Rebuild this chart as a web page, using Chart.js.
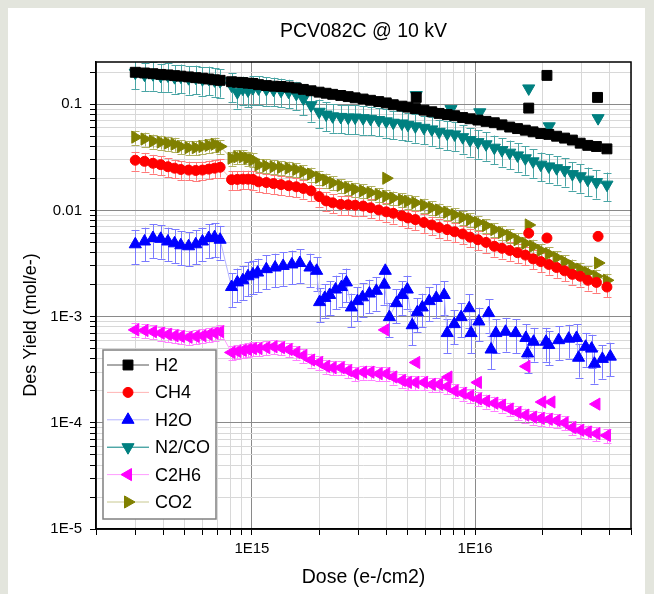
<!DOCTYPE html>
<html>
<head>
<meta charset="utf-8">
<title>PCV082C @ 10 kV</title>
<script src="https://cdn.jsdelivr.net/npm/chart.js@4.4.1/dist/chart.umd.min.js"></script>
<style>
  html, body { margin: 0; padding: 0; background: #e3e5dd; }
  #wrap { width: 654px; height: 594px; }
</style>
</head>
<body>
<div id="wrap"><canvas id="chart" width="654" height="594"></canvas></div>
<script>
// Dose grid shared by the smooth series (e-/cm2)
const dose = [
  3.0e14, 3.3e14, 3.6e14, 3.9e14, 4.2e14, 4.5e14, 4.8e14, 5.2e14, 5.6e14, 6.0e14, 6.4e14, 6.8e14, 7.2e14,
  8.1e14, 8.6e14, 9.1e14, 9.6e14, 1.01e15,
  1.07e15, 1.16e15, 1.25e15, 1.35e15, 1.46e15, 1.58e15, 1.7e15, 1.84e15, 2.0e15, 2.15e15,
  2.3e15, 2.5e15, 2.7e15, 2.9e15, 3.15e15, 3.4e15, 3.7e15, 4.0e15, 4.3e15, 4.7e15,
  5.0e15, 5.4e15, 5.9e15, 6.4e15, 6.9e15, 7.5e15, 8.1e15, 8.8e15, 9.5e15,
  1.03e16, 1.12e16, 1.22e16, 1.32e16, 1.43e16, 1.55e16, 1.68e16, 1.82e16, 1.97e16, 2.14e16,
  2.32e16, 2.52e16, 2.73e16, 2.96e16, 3.2e16, 3.5e16, 3.9e16
];

const h2 = [
  0.200, 0.197, 0.194, 0.191, 0.189, 0.186, 0.184, 0.181, 0.178, 0.176, 0.173, 0.170, 0.168,
  0.163, 0.161, 0.160, 0.158, 0.157,
  0.153, 0.150, 0.148, 0.147, 0.145, 0.142, 0.138, 0.134, 0.130, 0.127,
  0.124, 0.121, 0.118, 0.115, 0.112, 0.109, 0.106, 0.103, 0.099, 0.096,
  0.094, 0.091, 0.088, 0.085, 0.082, 0.080, 0.078, 0.075, 0.073,
  0.071, 0.069, 0.067, 0.064, 0.061, 0.059, 0.057, 0.055, 0.053, 0.052,
  0.050, 0.048, 0.046, 0.043, 0.041, 0.040, 0.038
];

const ch4 = [
  0.0297, 0.0290, 0.0278, 0.0270, 0.0258, 0.0250, 0.0243, 0.0240, 0.0238, 0.0240, 0.0245, 0.0250, 0.0255,
  0.0195, 0.0196, 0.0197, 0.0197, 0.0196,
  0.0186, 0.0183, 0.0179, 0.0175, 0.0171, 0.0167, 0.0161, 0.0153, 0.0135, 0.0123,
  0.0118, 0.0114, 0.0113, 0.0112, 0.0110, 0.0106, 0.0101, 0.0097, 0.0094, 0.0089,
  0.0085, 0.0082, 0.0077, 0.0073, 0.0069, 0.0066, 0.0063, 0.0060, 0.0056,
  0.0053, 0.0050, 0.0046, 0.0044, 0.0042, 0.0040, 0.0038, 0.0035, 0.0033, 0.0031,
  0.0029, 0.0027, 0.0025, 0.0024, 0.0022, 0.0021, 0.0019
];

const n2co = [
  0.198, 0.190, 0.192, 0.185, 0.187, 0.180, 0.182, 0.176, 0.178, 0.172, 0.174, 0.168, 0.165,
  0.150, 0.130, 0.140, 0.135, 0.142,
  0.141, 0.139, 0.137, 0.134, 0.131, 0.125, 0.113, 0.098, 0.085, 0.080,
  0.077, 0.076, 0.075, 0.075, 0.074, 0.073, 0.071, 0.069, 0.067, 0.066,
  0.064, 0.062, 0.060, 0.058, 0.055, 0.053, 0.052, 0.049, 0.046,
  0.044, 0.042, 0.039, 0.037, 0.035, 0.033, 0.031, 0.029, 0.027, 0.026,
  0.025, 0.024, 0.022, 0.021, 0.0195, 0.0185, 0.0175
];

const c2h6 = [
  0.00075, 0.00074, 0.00072, 0.00070, 0.00068, 0.00066, 0.00065, 0.00064, 0.00065, 0.00066, 0.00068, 0.00070, 0.00072,
  0.00046, 0.00047, 0.00048, 0.00049, 0.00050,
  0.00050, 0.00051, 0.00052, 0.00051, 0.00049, 0.00046, 0.00043, 0.00039, 0.00037, 0.00034,
  0.00033, 0.00033, 0.00031, 0.00029, 0.00030, 0.00030, 0.00029, 0.00029, 0.00027, 0.00025,
  0.00024, 0.00024, 0.00024, 0.00023, 0.00023, 0.00022, 0.00020, 0.00019, 0.00018,
  0.000168, 0.00016, 0.000153, 0.000147, 0.000135, 0.000125, 0.000118, 0.000113, 0.00011, 0.000108,
  0.000105, 0.0001, 0.00009, 0.000085, 0.000082, 0.000079, 0.000076
];

const co2 = [
  0.049, 0.047, 0.045, 0.044, 0.043, 0.042, 0.040, 0.039, 0.039, 0.040, 0.041, 0.042, 0.040,
  0.031, 0.032, 0.032, 0.031, 0.030,
  0.0268, 0.0263, 0.0258, 0.0254, 0.0250, 0.0243, 0.0232, 0.0220, 0.0205, 0.0193,
  0.0182, 0.0172, 0.0164, 0.0158, 0.0153, 0.0147, 0.0141, 0.0136, 0.0131, 0.0126,
  0.0122, 0.0118, 0.0112, 0.0106, 0.0101, 0.0096, 0.0091, 0.0086, 0.0082,
  0.0077, 0.0072, 0.0066, 0.0062, 0.0058, 0.0053, 0.0049, 0.0046, 0.0042, 0.0039,
  0.0036, 0.0033, 0.0030, 0.0028, 0.0026, 0.0024, 0.0022
];

// H2O has its own saw-tooth dose grid
const h2oDose = [
  3.0e14, 3.3e14, 3.6e14, 3.9e14, 4.2e14, 4.5e14, 4.8e14, 5.2e14, 5.6e14, 6.0e14, 6.4e14, 6.8e14, 7.2e14,
  8.1e14, 8.6e14, 9.1e14, 9.6e14, 1.01e15,
  1.06e15, 1.16e15, 1.27e15, 1.38e15, 1.51e15, 1.64e15, 1.82e15, 1.95e15,
  2.01e15, 2.12e15, 2.23e15, 2.37e15, 2.52e15, 2.65e15,
  2.79e15, 2.97e15, 3.13e15, 3.36e15, 3.61e15, 3.92e15,
  4.13e15, 4.44e15, 4.72e15, 4.97e15,
  5.23e15, 5.51e15, 5.8e15, 6.23e15, 6.7e15, 7.27e15,
  7.5e15, 8.07e15, 8.66e15, 9.41e15,
  9.6e15, 1.04e16, 1.15e16,
  1.18e16, 1.24e16, 1.37e16, 1.52e16, 1.69e16,
  1.72e16, 1.83e16, 2.08e16,
  2.14e16, 2.37e16, 2.63e16, 2.85e16,
  2.91e16, 3.13e16, 3.33e16,
  3.43e16, 3.72e16, 4.04e16
];
const h2o = [
  0.0048, 0.0051, 0.0055, 0.0054, 0.0051, 0.0049, 0.0047, 0.0046, 0.0048, 0.0051, 0.0055, 0.0056, 0.0053,
  0.0019, 0.0021, 0.0022, 0.0024, 0.0025,
  0.0026, 0.0028, 0.0029, 0.0030, 0.0031, 0.0032, 0.0029, 0.0027,
  0.00137, 0.0015, 0.0016, 0.0018, 0.0019, 0.0021,
  0.00122, 0.0014, 0.00152, 0.00165, 0.00175, 0.0020,
  0.00099, 0.00134, 0.0016, 0.0018,
  0.00083, 0.0011, 0.00122, 0.0014, 0.0015, 0.0016,
  0.0007, 0.00085, 0.00099, 0.0012,
  0.0007, 0.0009, 0.00108,
  0.00049, 0.0007, 0.00072, 0.0007, 0.00063,
  0.00045, 0.00058, 0.00058,
  0.00054, 0.0006, 0.00062, 0.00063,
  0.00041, 0.00052, 0.0005,
  0.00036, 0.0004, 0.00042
];

// Stray single points
const h2OutDose = [5.45e15, 1.74e16, 2.1e16, 3.54e16];
const h2Out = [0.116, 0.092, 0.187, 0.116];
const ch4OutDose = [1.74e16, 2.1e16, 3.56e16];
const ch4Out = [0.0061, 0.0055, 0.0057];
const h2oOutDose = [3.96e15];
const h2oOut = [0.0027];
const n2coOutDose = [5.45e15, 7.8e15, 1.05e16, 1.74e16, 2.15e16, 3.56e16];
const n2coOut = [0.122, 0.09, 0.084, 0.141, 0.062, 0.074];
const c2h6OutDose = [3.96e15, 5.45e15, 7.6e15, 1.03e16, 1.7e16, 2.0e16, 2.2e16, 3.5e16];
const c2h6Out = [0.00075, 0.00037, 0.00027, 0.00024, 0.00034, 0.000157, 0.000157, 0.00015];
const co2OutDose = [4.0e15, 1.74e16, 3.56e16];
const co2Out = [0.0201, 0.0073, 0.0032];

const seriesNames = ["H2", "CH4", "H2O", "N2/CO", "C2H6", "CO2"];
// relative error bar size (fraction of value)
const errFrac = [0.06, 0.2, 0.35, 0.3, 0.15, 0.15];

// Axis ticks
const xTickValues = [1e15, 1e16];
const xTickLabels = ["1E15", "1E16"];
const yTickValues = [1e-5, 1e-4, 1e-3, 0.01, 0.1];
const yTickLabels = ["1E-5", "1E-4", "1E-3", "0.01", "0.1"];

const FONT = "'Liberation Sans', Arial, sans-serif";

function pts(xs, ys) {
  return xs.map((x, i) => ({ x: x, y: ys[i] }));
}

// Series styles
const styles = [
  { color: "#000000", line: "#555555", err: "#444444", shape: "rect", rot: 0, r: 7 },
  { color: "#ff0000", line: "#ffb4b4", err: "#ff7a7a", shape: "circle", rot: 0, r: 5 },
  { color: "#0000ff", line: "#b4b4ff", err: "#7a7aff", shape: "triangle", rot: 0, r: 7 },
  { color: "#008080", line: "#008080", err: "#4aa5a5", shape: "triangle", rot: 180, r: 7 },
  { color: "#ff00ff", line: "#ff9cff", err: "#ff80ff", shape: "triangle", rot: -90, r: 7 },
  { color: "#808000", line: "#c8c890", err: "#b0b060", shape: "triangle", rot: 90, r: 7 }
];

const mainData = [
  pts(dose, h2), pts(dose, ch4), pts(h2oDose, h2o),
  pts(dose, n2co), pts(dose, c2h6), pts(dose, co2)
];
const outData = [
  pts(h2OutDose, h2Out), pts(ch4OutDose, ch4Out), pts(h2oOutDose, h2oOut),
  pts(n2coOutDose, n2coOut), pts(c2h6OutDose, c2h6Out), pts(co2OutDose, co2Out)
];

const datasets = [];
seriesNames.forEach((name, i) => {
  const s = styles[i];
  datasets.push({
    label: name,
    data: mainData[i],
    showLine: true,
    borderColor: s.line,
    borderWidth: 1,
    pointStyle: s.shape,
    pointRotation: s.rot,
    pointRadius: s.r,
    pointBackgroundColor: s.color,
    pointBorderColor: s.color,
    pointBorderWidth: 1
  });
});
seriesNames.forEach((name, i) => {
  const s = styles[i];
  datasets.push({
    label: name + " (single)",
    data: outData[i],
    showLine: false,
    pointStyle: s.shape,
    pointRotation: s.rot,
    pointRadius: s.r,
    pointBackgroundColor: s.color,
    pointBorderColor: s.color,
    pointBorderWidth: 1
  });
});

// Minor + major ticks for each decade
function decadeTicks(min, max) {
  const out = [];
  for (let e = Math.floor(Math.log10(min)); e <= Math.ceil(Math.log10(max)); e++) {
    for (let m = 1; m <= 9; m++) {
      const v = m * Math.pow(10, e);
      if (v >= min * 0.999 && v <= max * 1.001) out.push({ value: v, major: m === 1 });
    }
  }
  return out;
}

function labelFor(value, values, labels) {
  const i = values.findIndex((v) => Math.abs(Math.log10(v) - Math.log10(value)) < 1e-6);
  return i >= 0 ? labels[i] : "";
}

const gridColor = (ctx) => (ctx.tick && ctx.tick.major ? "#8a8a8a" : "#d8d8d8");

// Page background, titles, error bars, frame and boxed legend
const decorPlugin = {
  id: "decor",
  beforeDraw(chart) {
    const ctx = chart.ctx;
    ctx.save();
    ctx.fillStyle = "#e3e5dd";
    ctx.fillRect(0, 0, chart.width, chart.height);
    ctx.fillStyle = "#ffffff";
    ctx.fillRect(8, 8, 637, 586);
    ctx.restore();
  },
  beforeDatasetsDraw(chart) {
    const ctx = chart.ctx;
    const a = chart.chartArea;
    const xs = chart.scales.x;
    const ys = chart.scales.y;
    ctx.save();
    ctx.beginPath();
    ctx.rect(a.left, a.top, a.right - a.left, a.bottom - a.top);
    ctx.clip();
    ctx.lineWidth = 1;
    seriesNames.forEach((name, i) => {
      const f = errFrac[i];
      ctx.strokeStyle = styles[i].err;
      ctx.beginPath();
      mainData[i].forEach((p) => {
        const x = Math.round(xs.getPixelForValue(p.x)) + 0.5;
        const yLo = ys.getPixelForValue(p.y * (1 - f));
        const yHi = ys.getPixelForValue(p.y * (1 + f));
        ctx.moveTo(x, yLo);
        ctx.lineTo(x, yHi);
        ctx.moveTo(x - 4, Math.round(yLo) + 0.5);
        ctx.lineTo(x + 4, Math.round(yLo) + 0.5);
        ctx.moveTo(x - 4, Math.round(yHi) + 0.5);
        ctx.lineTo(x + 4, Math.round(yHi) + 0.5);
      });
      ctx.stroke();
    });
    ctx.restore();
  },
  afterDraw(chart) {
    const ctx = chart.ctx;
    const a = chart.chartArea;
    ctx.save();
    ctx.strokeStyle = "#000";
    ctx.lineWidth = 1.5;
    ctx.strokeRect(a.left, a.top, a.right - a.left, a.bottom - a.top);

    // titles
    const cx = (a.left + a.right) / 2;
    ctx.fillStyle = "#000";
    ctx.textAlign = "center";
    ctx.textBaseline = "middle";
    ctx.font = "19.5px " + FONT;
    ctx.fillText("PCV082C @ 10 kV", cx, 32);
    ctx.fillText("Dose (e-/cm2)", cx, 578);
    ctx.save();
    ctx.translate(31, 325);
    ctx.rotate(-Math.PI / 2);
    ctx.font = "18px " + FONT;
    ctx.fillText("Des Yield (mol/e-)", 0, 0);
    ctx.restore();

    // legend box
    ctx.textAlign = "left";
    ctx.fillStyle = "#ffffff";
    ctx.fillRect(103, 350, 113, 169);
    ctx.strokeStyle = "#808080";
    ctx.lineWidth = 1.5;
    ctx.strokeRect(103, 350, 113, 169);
    ctx.font = "18px " + FONT;
    seriesNames.forEach((name, i) => {
      const s = styles[i];
      const y = 365 + i * 27.4;
      ctx.strokeStyle = s.line;
      ctx.lineWidth = 1;
      ctx.beginPath();
      ctx.moveTo(107, y);
      ctx.lineTo(149, y);
      ctx.stroke();
      ctx.fillStyle = s.color;
      ctx.strokeStyle = s.color;
      Chart.helpers.drawPoint(ctx, { pointStyle: s.shape, radius: s.r, rotation: s.rot, borderWidth: 1 }, 128, y);
      ctx.fillStyle = "#000";
      ctx.fillText(name, 155, y + 1);
    });
    ctx.restore();
  }
};

const ctx = document.getElementById("chart").getContext("2d");
new Chart(ctx, {
  type: "scatter",
  data: { datasets: datasets },
  plugins: [decorPlugin],
  options: {
    responsive: false,
    animation: false,
    layout: { padding: { left: 0, right: 23, top: 62, bottom: 0 } },
    plugins: {
      legend: { display: false },
      tooltip: { enabled: false },
      title: { display: false }
    },
    scales: {
      x: {
        type: "logarithmic",
        min: 2e14,
        max: 5e16,
        afterBuildTicks: (scale) => { scale.ticks = decadeTicks(2e14, 5e16); },
        afterFit: (scale) => { scale.height = 65; },
        ticks: {
          autoSkip: false,
          maxRotation: 0,
          padding: 5,
          color: "#000",
          font: { family: FONT, size: 15 },
          callback: (value) => labelFor(value, xTickValues, xTickLabels)
        },
        grid: { color: gridColor, tickColor: "#000", tickLength: 6 },
        border: { color: "#000", width: 1.5 }
      },
      y: {
        type: "logarithmic",
        min: 1e-5,
        max: 0.25,
        afterBuildTicks: (scale) => { scale.ticks = decadeTicks(1e-5, 0.25); },
        afterFit: (scale) => { scale.width = 96; },
        ticks: {
          autoSkip: false,
          padding: 8,
          color: "#000",
          font: { family: FONT, size: 15 },
          callback: (value) => labelFor(value, yTickValues, yTickLabels)
        },
        grid: { color: gridColor, tickColor: "#000", tickLength: 6 },
        border: { color: "#000", width: 1.5 }
      }
    }
  }
});
</script>
</body>
</html>
